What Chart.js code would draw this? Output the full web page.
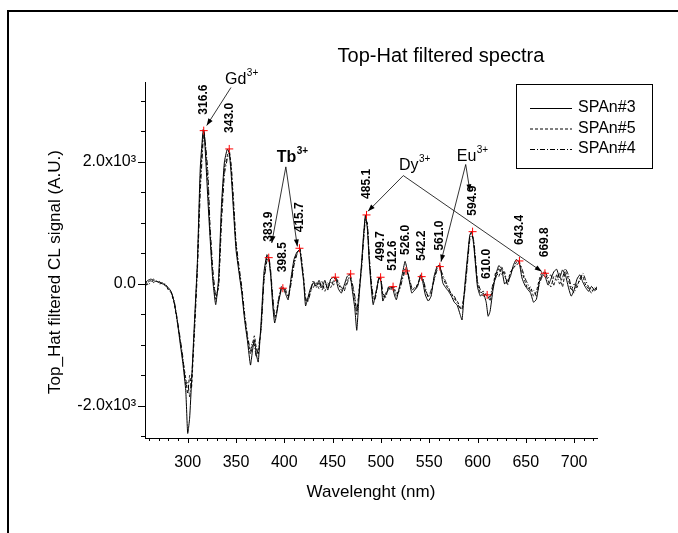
<!DOCTYPE html>
<html>
<head>
<meta charset="utf-8">
<script src="https://cdn.jsdelivr.net/npm/chart.js"></script>
<style>
html, body { margin: 0; padding: 0; background: #fff; }
canvas { display: block; }
</style>
</head>
<body>
<canvas id="chart" width="678" height="533"></canvas>
<script>
// wavelength grid (nm) shared by the three spectra
const wavelengths = [
  256,259,262,265,268,271,274,277,280,283,
  286,289,292,295,298,300,302,304,307,310,
  313,316,317,319,321,323,326,329,332,335,
  338,341,343,345,347,350,353,356,359,362,
  365,367,369,371,373,376,379,382,384,386,
  388,390,392,394,397,399,401,404,407,410,
  413,416,418,420,422,424,427,430,433,436,
  439,442,445,448,451,453,456,459,462,465,
  468,470,473,475,477,480,482,484,486,488,
  490,492,494,496,498,500,502,505,508,510,
  512,514,516,519,522,525,527,530,532,535,
  538,541,543,546,549,552,555,558,561,564,
  567,570,573,576,579,582,584,587,590,592,
  594,596,598,600,603,606,609,611,613,616,
  619,622,625,628,631,634,637,640,643,646,
  649,652,655,658,661,664,667,670,673,676,
  679,682,685,688,691,694,697,700,703,706,
  709,712,715,718,721,724
];

const span3 = [
  20,60,80,50,40,20,10,-20,-60,-130,
  -300,-580,-950,-1300,-1750,-2450,-2200,-1600,-620,350,
  1900,2530,2500,1950,1350,800,60,-340,100,1300,
  2000,2210,2150,1800,1300,560,200,-150,-600,-950,
  -1330,-1100,-920,-1150,-1280,-620,200,480,400,120,
  -350,-640,-500,-300,-90,-60,-150,-260,100,400,
  520,560,300,40,-360,-250,-80,20,-40,60,
  -60,60,-100,80,110,100,-80,-150,-20,120,
  160,-60,-400,-760,-300,350,800,1130,900,350,
  -60,-340,-200,-60,110,50,-280,-150,-100,-60,
  -50,-180,-260,-60,150,370,250,0,-150,-100,
  -40,150,60,-180,-280,-200,120,280,310,20,
  -60,-120,-200,-300,-350,-500,-590,0,500,800,
  860,650,300,-50,-200,-150,-300,-530,-450,-100,
  150,300,250,0,60,120,300,400,360,100,
  -20,-90,-150,-300,-250,30,150,120,-20,80,
  200,240,100,230,150,-50,-200,-100,80,150,
  30,-60,-120,-40,-100,-40
];

const span5 = [
  -40,30,60,20,50,0,20,-40,-80,-150,
  -320,-600,-900,-1250,-1550,-1800,-1500,-1700,-700,300,
  1700,2450,2520,2100,1650,900,150,-250,0,1150,
  1900,2100,2200,1900,1400,650,250,-100,-550,-900,
  -1150,-1000,-850,-1050,-1150,-700,100,430,420,150,
  -250,-560,-450,-250,-70,-80,-120,-200,50,350,
  500,580,350,80,-280,-280,-120,-60,20,-80,
  40,-120,20,-60,60,110,0,-100,-120,60,
  100,0,-250,-500,-150,300,750,1100,950,400,
  0,-250,-220,-40,100,80,-200,-200,-60,-80,
  -40,-100,-200,-80,100,250,200,20,-100,-60,
  -20,120,100,-100,-200,-150,80,250,280,100,
  0,-100,-150,-250,-280,-380,-420,-50,450,780,
  840,700,350,0,-150,-120,-190,-200,-280,-50,
  200,120,280,150,0,200,250,350,380,200,
  50,-80,-50,-200,-120,80,200,170,60,-50,
  120,60,180,-50,200,80,-100,0,-60,100,
  120,-20,-80,-150,-60,-100
];

const span4 = [
  60,-20,40,80,30,40,-10,0,-100,-140,
  -280,-560,-870,-1200,-1650,-1600,-1850,-1550,-800,200,
  1500,2350,2450,2200,1800,1000,250,-200,-50,1000,
  1800,2050,2150,1950,1500,700,300,-50,-500,-850,
  -1100,-950,-1000,-1200,-1050,-750,50,380,440,200,
  -200,-500,-480,-280,-40,-100,-80,-220,0,300,
  480,590,400,100,-220,-300,-150,60,-60,20,
  -100,0,-60,40,-20,100,40,-60,-80,0,
  150,40,-200,-450,-200,250,700,1050,1000,450,
  50,-200,-250,-80,80,100,-150,-220,-40,-100,
  -60,-60,-150,-120,60,200,220,60,-60,-100,
  0,100,120,-60,-220,-100,50,220,260,150,
  40,-60,-180,-200,-320,-400,-380,-100,400,720,
  800,720,400,50,-100,-200,-150,-180,-220,0,
  100,250,150,200,-20,150,280,300,350,250,
  100,0,-120,-100,-200,0,120,200,100,150,
  -20,150,0,100,250,150,-50,-150,0,50,
  180,60,-50,-100,-120,-60
];

// marked peaks
const peakWl  = [316.6, 343.0, 383.9, 398.5, 415.7, 452.8, 468.7, 485.1, 499.7, 512.6, 526.0, 542.2, 561.0, 594.9, 610.0, 643.4, 669.8];
const peakVal = [2513, 2213, 431, -70, 585, 110, 164, 1131, 110, -44, 213, 120, 284, 857, -180, 377, 175];
const peakText = ['316.6','343.0','383.9','398.5','415.7','','','485.1','499.7','512.6','526.0','542.2','561.0','594.9','610.0','643.4','669.8'];

const seriesNames = ['SPAn#3', 'SPAn#5', 'SPAn#4'];
const xTickValues = [300, 350, 400, 450, 500, 550, 600, 650, 700];
const yTickValues = [-2000, 0, 2000];
const yTickText = ['-2.0x10³', '0.0', '2.0x10³'];

const FONT = "'Liberation Sans', Arial, sans-serif";
const dashes = [[], [3, 2], [5, 2, 1, 2]];

// ion labels, in data coordinates: text anchor, line apex, arrow tips
const ions = [
  { name: 'Gd', sup: '3+', bold: false, at: [338.6, 3270], from: [344.8, 3220], to: [[319.7, 2597]] },
  { name: 'Tb', sup: '3+', bold: true,  at: [392.1, 2006], from: [401.6, 1919], to: [[387.0, 671], [413.5, 615]] },
  { name: 'Dy', sup: '3+', bold: false, at: [518.7, 1863], from: [523.2, 1776], to: [[486.6, 1190], [666.5, 204]] },
  { name: 'Eu', sup: '3+', bold: false, at: [578.5, 2011], from: [587.8, 1958], to: [[562.2, 365], [592.2, 1518]] }
];

function toPoints(ys) {
  return wavelengths.map((x, i) => ({ x: x, y: ys[i] }));
}

function arrow(ctx, x0, y0, x1, y1) {
  ctx.beginPath();
  ctx.moveTo(x0, y0);
  ctx.lineTo(x1, y1);
  ctx.stroke();
  const a = Math.atan2(y1 - y0, x1 - x0);
  const len = 7, w = 2.5;
  ctx.beginPath();
  ctx.moveTo(x1, y1);
  ctx.lineTo(x1 - len * Math.cos(a) + w * Math.sin(a), y1 - len * Math.sin(a) - w * Math.cos(a));
  ctx.lineTo(x1 - len * Math.cos(a) - w * Math.sin(a), y1 - len * Math.sin(a) + w * Math.cos(a));
  ctx.closePath();
  ctx.fill();
}

const decorPlugin = {
  id: 'decor',
  beforeDraw(chart) {
    const ctx = chart.ctx;
    ctx.save();
    ctx.strokeStyle = '#000';
    ctx.lineWidth = 2;
    ctx.beginPath();
    ctx.moveTo(8, 533);
    ctx.lineTo(8, 11);
    ctx.lineTo(678, 11);
    ctx.stroke();
    ctx.restore();
  },
  afterDraw(chart) {
    const ctx = chart.ctx;
    const xs = chart.scales.x, ys = chart.scales.y;
    const { left, bottom } = chart.chartArea;
    ctx.save();
    ctx.strokeStyle = '#000';
    ctx.fillStyle = '#000';
    ctx.lineWidth = 1;

    // minor / major ticks
    ctx.beginPath();
    for (let v = 260; v <= 720; v += 10) {
      const px = Math.round(xs.getPixelForValue(v)) + 0.5;
      ctx.moveTo(px, bottom);
      ctx.lineTo(px, bottom + (v % 50 === 0 ? 5 : 3));
    }
    for (let v = -2500; v <= 3000; v += 500) {
      const py = Math.round(ys.getPixelForValue(v)) + 0.5;
      ctx.moveTo(left, py);
      ctx.lineTo(left - (v % 2000 === 0 ? 7 : 4), py);
    }
    ctx.stroke();

    // peak labels
    ctx.font = 'bold 12px ' + FONT;
    ctx.textAlign = 'left';
    ctx.textBaseline = 'middle';
    peakWl.forEach((w, i) => {
      if (!peakText[i]) return;
      const px = xs.getPixelForValue(w);
      const py = ys.getPixelForValue(peakVal[i]);
      ctx.save();
      ctx.translate(px, py - 16);
      ctx.rotate(-Math.PI / 2);
      ctx.fillText(peakText[i], 0, 0);
      ctx.restore();
    });

    // ion labels and arrows
    ctx.textBaseline = 'alphabetic';
    ctx.lineWidth = 0.8;
    ions.forEach(ion => {
      const tx = xs.getPixelForValue(ion.at[0]);
      const ty = ys.getPixelForValue(ion.at[1]);
      ctx.font = (ion.bold ? 'bold ' : '') + '16px ' + FONT;
      ctx.fillText(ion.name, tx, ty);
      const w = ctx.measureText(ion.name).width;
      ctx.font = (ion.bold ? 'bold ' : '') + '10px ' + FONT;
      ctx.fillText(ion.sup, tx + w + 0.5, ty - 8);
      const fx = xs.getPixelForValue(ion.from[0]);
      const fy = ys.getPixelForValue(ion.from[1]);
      ion.to.forEach(t => {
        arrow(ctx, fx, fy, xs.getPixelForValue(t[0]), ys.getPixelForValue(t[1]));
      });
    });

    // titles
    ctx.textAlign = 'center';
    ctx.font = '20px ' + FONT;
    ctx.fillText('Top-Hat filtered spectra', 441, 62);
    ctx.font = '17px ' + FONT;
    ctx.textBaseline = 'middle';
    ctx.fillText('Wavelenght (nm)', (xs.left + xs.right) / 2, 492);
    ctx.save();
    ctx.translate(55, 272);
    ctx.rotate(-Math.PI / 2);
    ctx.fillText('Top_Hat filtered CL signal (A.U.)', 0, 0);
    ctx.restore();

    // legend
    ctx.lineWidth = 1;
    ctx.strokeRect(516.5, 84.5, 136, 84);
    const rows = [108, 128.5, 149];
    ctx.font = '16px ' + FONT;
    ctx.textAlign = 'left';
    seriesNames.forEach((name, i) => {
      ctx.beginPath();
      ctx.setLineDash(dashes[i]);
      ctx.moveTo(530, rows[i] + 0.5);
      ctx.lineTo(572, rows[i] + 0.5);
      ctx.stroke();
      ctx.setLineDash([]);
      ctx.fillText(name, 578, rows[i]);
    });
    ctx.restore();
  }
};

new Chart(document.getElementById('chart'), {
  type: 'line',
  plugins: [decorPlugin],
  data: {
    datasets: [
      {
        label: 'peaks',
        data: peakWl.map((x, i) => ({ x: x, y: peakVal[i] })),
        showLine: false,
        pointStyle: 'cross',
        pointRadius: 4,
        pointBorderColor: '#ff0000',
        pointBorderWidth: 1,
        borderColor: '#ff0000'
      },
      ...seriesNames.map((name, i) => ({
        label: name,
        data: toPoints([span3, span5, span4][i]),
        borderColor: '#000',
        borderWidth: 1,
        borderDash: dashes[i],
        pointRadius: 0,
        tension: 0.15,
        fill: false
      }))
    ]
  },
  options: {
    responsive: false,
    animation: false,
    events: [],
    layout: { padding: { left: 0, right: 81, top: 82, bottom: 0 } },
    plugins: {
      legend: { display: false },
      tooltip: { enabled: false },
      title: { display: false }
    },
    scales: {
      x: {
        type: 'linear',
        min: 255.8,
        max: 723.7,
        border: { display: true, color: '#000', width: 1 },
        grid: { drawOnChartArea: false, drawTicks: false },
        afterBuildTicks: s => { s.ticks = xTickValues.map(v => ({ value: v })); },
        ticks: {
          autoSkip: false,
          maxRotation: 0,
          padding: 15,
          color: '#000',
          font: { family: FONT, size: 16 },
          callback: v => String(v)
        },
        afterFit: s => { s.height = 95; }
      },
      y: {
        type: 'linear',
        min: -2525,
        max: 3310,
        border: { display: true, color: '#000', width: 1 },
        grid: { drawOnChartArea: false, drawTicks: false },
        afterBuildTicks: s => { s.ticks = yTickValues.map(v => ({ value: v })); },
        ticks: {
          autoSkip: false,
          padding: 9,
          color: '#000',
          font: { family: FONT, size: 16 },
          callback: v => yTickText[yTickValues.indexOf(v)]
        },
        afterFit: s => { s.width = 145; }
      }
    }
  }
});
</script>
</body>
</html>
